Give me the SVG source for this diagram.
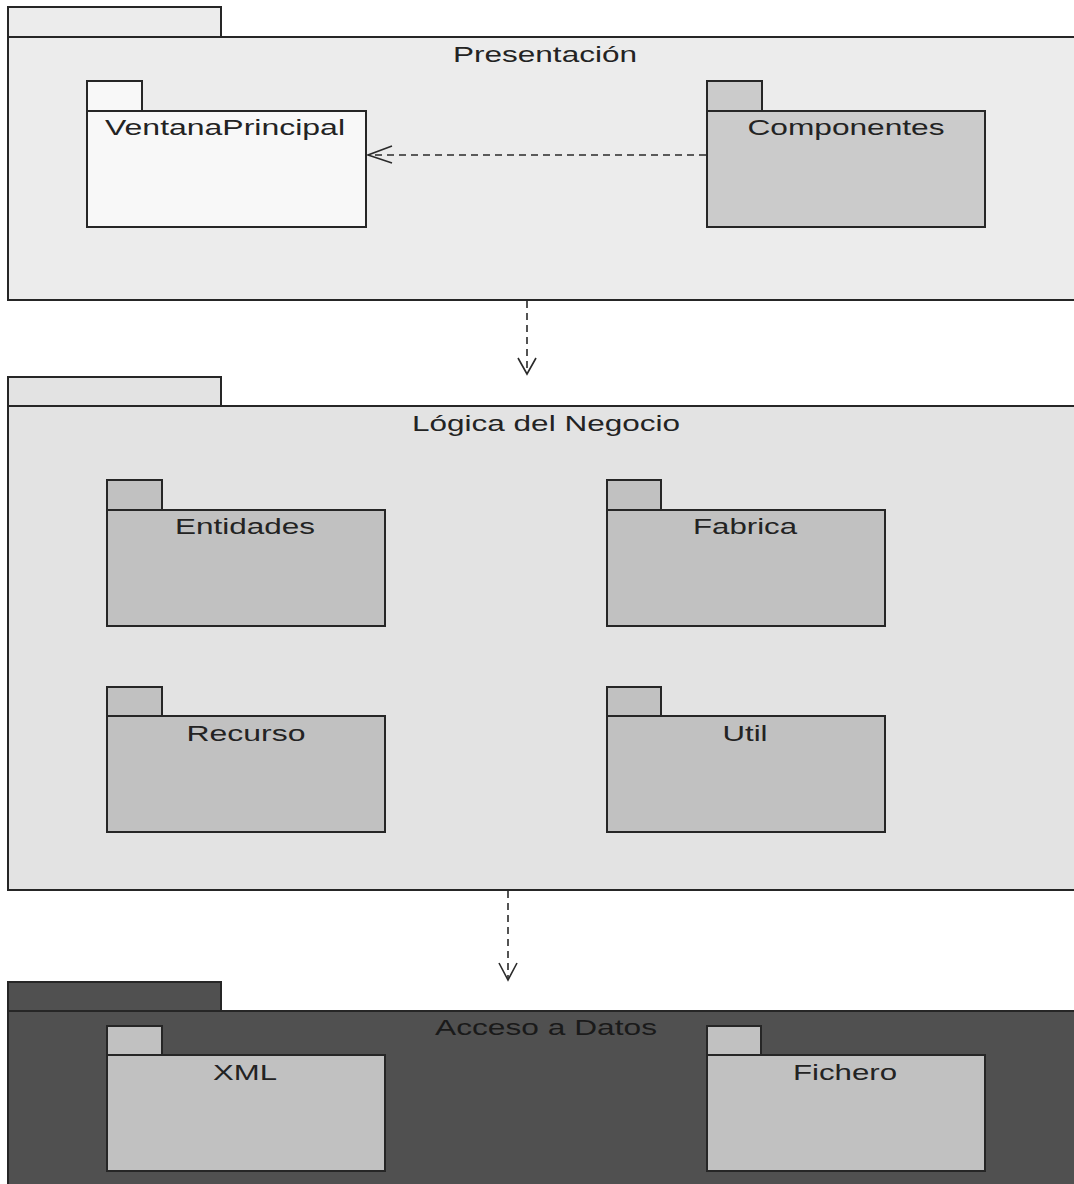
<svg xmlns="http://www.w3.org/2000/svg" width="1074" height="1184" viewBox="0 0 1074 1184">
  <style>
    .pk { stroke: #262626; stroke-width: 2; }
    .layer1 { fill: #ececec; }
    .layer2 { fill: #e3e3e3; }
    .layer3 { fill: #505050; }
    .white { fill: #f8f8f8; }
    .grey { fill: #c1c1c1; }
    .grey2 { fill: #cbcbcb; }
    .lbl { font-family: "Liberation Sans", Arial, sans-serif; font-size: 22px; fill: #232323; text-anchor: middle; }
    .dep { fill: none; stroke: #2a2a2a; stroke-width: 1.6; stroke-dasharray: 7 5; }
    .head { fill: none; stroke: #2a2a2a; stroke-width: 1.6; }
  </style>
  <rect width="1074" height="1184" fill="#ffffff"/>

  <!-- Presentation layer -->
  <g id="presentacion">
    <rect class="pk layer1" x="8" y="7" width="213" height="30"/>
    <rect class="pk layer1" x="8" y="37" width="1080" height="263"/>
    <text class="lbl" x="545" y="62" textLength="184" lengthAdjust="spacingAndGlyphs">Presentación</text>
  </g>
  <g id="ventanaPrincipal">
    <rect class="pk white" x="87" y="81" width="55" height="30"/>
    <rect class="pk white" x="87" y="111" width="279" height="116"/>
    <text class="lbl" x="225" y="135" textLength="240" lengthAdjust="spacingAndGlyphs">VentanaPrincipal</text>
  </g>
  <g id="componentes">
    <rect class="pk grey2" x="707" y="81" width="55" height="30"/>
    <rect class="pk grey2" x="707" y="111" width="278" height="116"/>
    <text class="lbl" x="846" y="135" textLength="197" lengthAdjust="spacingAndGlyphs">Componentes</text>
  </g>

  <!-- Business logic layer -->
  <g id="logica">
    <rect class="pk layer2" x="8" y="377" width="213" height="29"/>
    <rect class="pk layer2" x="8" y="406" width="1080" height="484"/>
    <text class="lbl" x="546" y="431" textLength="268" lengthAdjust="spacingAndGlyphs">Lógica del Negocio</text>
  </g>
  <g id="entidades">
    <rect class="pk grey" x="107" y="480" width="55" height="30"/>
    <rect class="pk grey" x="107" y="510" width="278" height="116"/>
    <text class="lbl" x="245" y="534" textLength="140" lengthAdjust="spacingAndGlyphs">Entidades</text>
  </g>
  <g id="fabrica">
    <rect class="pk grey" x="607" y="480" width="54" height="30"/>
    <rect class="pk grey" x="607" y="510" width="278" height="116"/>
    <text class="lbl" x="745" y="534" textLength="104" lengthAdjust="spacingAndGlyphs">Fabrica</text>
  </g>
  <g id="recurso">
    <rect class="pk grey" x="107" y="687" width="55" height="29"/>
    <rect class="pk grey" x="107" y="716" width="278" height="116"/>
    <text class="lbl" x="246" y="741" textLength="119" lengthAdjust="spacingAndGlyphs">Recurso</text>
  </g>
  <g id="util">
    <rect class="pk grey" x="607" y="687" width="54" height="29"/>
    <rect class="pk grey" x="607" y="716" width="278" height="116"/>
    <text class="lbl" x="745" y="741" textLength="45" lengthAdjust="spacingAndGlyphs">Util</text>
  </g>

  <!-- Data access layer -->
  <g id="acceso">
    <rect class="pk layer3" x="8" y="982" width="213" height="29"/>
    <rect class="pk layer3" x="8" y="1011" width="1080" height="190"/>
    <text class="lbl" x="546" y="1035" textLength="222" lengthAdjust="spacingAndGlyphs" style="fill:#1a1a1a">Acceso a Datos</text>
  </g>
  <g id="xml">
    <rect class="pk grey" x="107" y="1026" width="55" height="29"/>
    <rect class="pk grey" x="107" y="1055" width="278" height="116"/>
    <text class="lbl" x="245" y="1080" textLength="64" lengthAdjust="spacingAndGlyphs">XML</text>
  </g>
  <g id="fichero">
    <rect class="pk grey" x="707" y="1026" width="54" height="29"/>
    <rect class="pk grey" x="707" y="1055" width="278" height="116"/>
    <text class="lbl" x="845" y="1080" textLength="104" lengthAdjust="spacingAndGlyphs">Fichero</text>
  </g>

  <!-- Dependencies -->
  <g id="connectors">
    <line class="dep" x1="706" y1="155" x2="368" y2="155"/>
    <polyline class="head" points="392,146 368,155 392,163"/>
    <line class="dep" x1="527" y1="301" x2="527" y2="372"/>
    <polyline class="head" points="518,358 527,374 536,358"/>
    <line class="dep" x1="508" y1="891" x2="508" y2="978"/>
    <polyline class="head" points="499,963 508,980 517,963"/>
  </g>
</svg>
